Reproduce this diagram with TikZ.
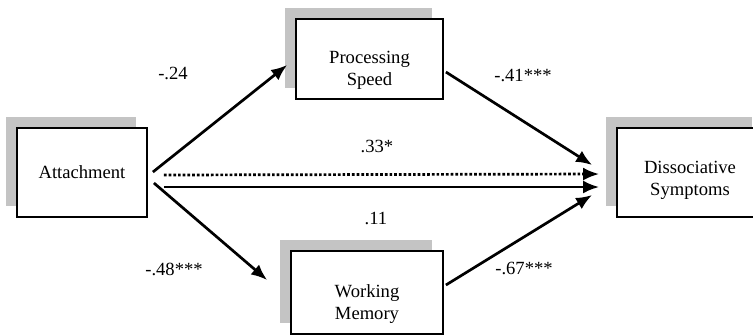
\documentclass[tikz,border=0pt]{standalone}
\usepackage{fontspec}
\setmainfont{Liberation Serif}
\newfontfamily\figfont{Liberation Serif}
\usetikzlibrary{arrows.meta, positioning, shadows}

\begin{document}
\begin{tikzpicture}[node distance=304pt, auto, font=\figfont\fontsize{9.3}{11}\selectfont]
        \tikzstyle{block} = [rectangle, draw, line width=0.9pt, fill=white, align=center,
            drop shadow={shadow xshift=-5.5pt, shadow yshift=5.5pt, fill=black!23, opacity=1}]
        \tikzstyle{twoline} = [text height=28.5pt]
        \tikzstyle{line} = [draw, line width=1.35pt, -{Latex[length=8pt, width=6.5pt]}]
        \tikzstyle{coef} = [inner sep=0pt]

        \useasboundingbox (-41pt,-80.75pt) rectangle (335.5pt,86.25pt);

        \node [block, minimum width=65pt, minimum height=44.5pt] (attach) {Attachment};
        \node [block, twoline, text height=25pt, right of=attach, minimum width=73pt, minimum height=44.5pt] (dissoc) {Dissociative\\Symptoms};
        \node [block, twoline, minimum width=73.5pt, minimum height=40pt] (speed) at (143.75pt,56.75pt) {Processing\\Speed};
        \node [block, twoline, minimum width=76pt, minimum height=41.5pt] (memory) at (142.5pt,-60pt) {Working\\Memory};

        % coefficients
        \node [coef] (c24) at (45.5pt,49.75pt) {-.24};
        \node [coef] (c48) at (46pt,-48.25pt) {-.48***};
        \node [coef] (c41) at (220.5pt,48.75pt) {-.41***};
        \node [coef] (c67) at (221pt,-47.75pt) {-.67***};
        \node [coef] (c33) at (147.5pt,13pt) {.33*};
        \node [coef] (c11) at (147pt,-22.75pt) {.11};

        \path [line] ([shift={(2.5pt,0.25pt)}]attach.east) -- ([shift={(-4pt,-3pt)}]speed.west);
        \path [line] ([shift={(3pt,-5.25pt)}]attach.east) -- ([shift={(-11.5pt,6.25pt)}]memory.west);
        \path [line, densely dotted] ([shift={(8pt,-1.25pt)}]attach.east) -- ([shift={(-8.5pt,-0.75pt)}]dissoc.west);
        \path [line] ([shift={(8pt,-7.25pt)}]attach.east) -- ([shift={(-8.5pt,-7.25pt)}]dissoc.west);
        \path [line] ([shift={(1pt,-6.5pt)}]speed.east) -- ([shift={(-12pt,3.75pt)}]dissoc.west);
        \path [line] ([shift={(1pt,3.75pt)}]memory.east) -- ([shift={(-12pt,-11.25pt)}]dissoc.west);
    \end{tikzpicture}
\end{document}
